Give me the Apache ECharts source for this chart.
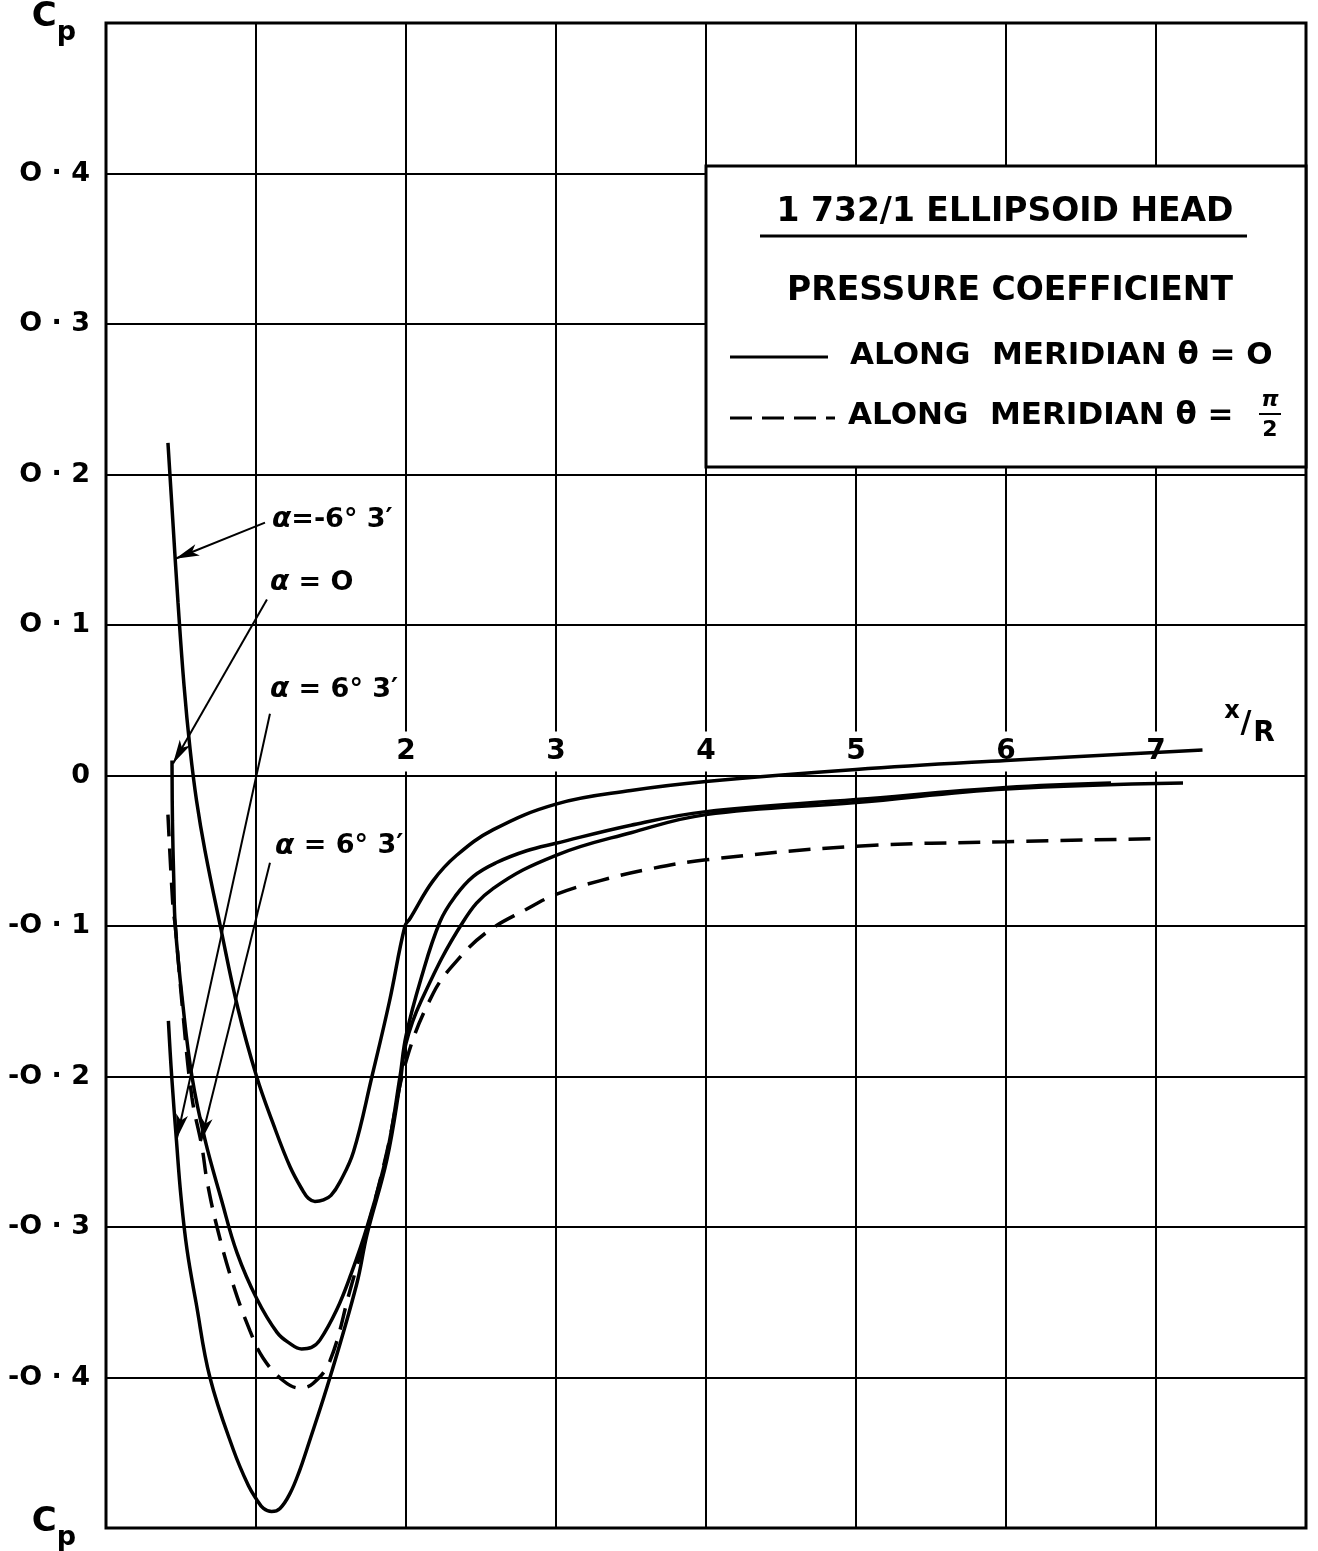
<!DOCTYPE html>
<html>
<head>
<meta charset="utf-8">
<script src="https://cdn.jsdelivr.net/npm/echarts/dist/echarts.min.js"></script>
<style>
  html, body { margin: 0; padding: 0; background: #fff; }
  #chart { width: 1318px; height: 1551px; }
</style>
</head>
<body>
<div id="chart"></div>
<script>
// alpha = -6deg 3', meridian theta = 0
var aNegX = [0.413, 0.445, 0.48, 0.52, 0.56, 0.604, 0.66, 0.76, 0.88, 1.004, 1.113, 1.227, 1.313, 1.35, 1.393, 1.45, 1.5, 1.56, 1.65, 1.773, 1.89, 1.993, 2.027, 2.18, 2.338, 2.582, 3.0, 3.5, 4.0, 5.0, 6.0, 7.31]
var aNegY = [0.221, 0.17, 0.115, 0.06, 0.018, -0.017, -0.05, -0.099, -0.155, -0.2, -0.231, -0.26, -0.276, -0.281, -0.283, -0.282, -0.279, -0.27, -0.25, -0.2, -0.15, -0.1, -0.095, -0.07, -0.053, -0.036, -0.019, -0.01, -0.004, 0.004, 0.01, 0.017]
// alpha = 0, theta = 0
var aZeroX = [0.44, 0.443, 0.452, 0.462, 0.51, 0.573, 0.66, 0.77, 0.873, 1.007, 1.14, 1.22, 1.304, 1.37, 1.427, 1.538, 1.627, 1.74, 1.873, 1.96, 2.0, 2.1, 2.227, 2.33, 2.449, 2.6, 2.804, 3.0, 3.5, 4.0, 5.0, 6.0, 6.7]
var aZeroY = [0.01, -0.03, -0.07, -0.1, -0.15, -0.2, -0.242, -0.282, -0.317, -0.348, -0.37, -0.377, -0.381, -0.38, -0.375, -0.355, -0.333, -0.3, -0.251, -0.2, -0.173, -0.135, -0.097, -0.08, -0.067, -0.058, -0.05, -0.045, -0.033, -0.024, -0.016, -0.008, -0.005]
// alpha = 6deg 3', theta = 0
var aPosX = [0.416, 0.438, 0.47, 0.5, 0.54, 0.6, 0.693, 0.849, 0.95, 1.004, 1.05, 1.104, 1.16, 1.227, 1.29, 1.338, 1.493, 1.671, 1.74, 1.873, 1.96, 2.0, 2.1, 2.382, 2.582, 3.0, 3.5, 4.0, 5.0, 6.0, 7.18]
var aPosY = [-0.163, -0.2, -0.243, -0.28, -0.315, -0.35, -0.4, -0.448, -0.472, -0.481, -0.487, -0.489, -0.487, -0.477, -0.462, -0.448, -0.4, -0.338, -0.305, -0.255, -0.205, -0.178, -0.15, -0.097, -0.075, -0.053, -0.038, -0.026, -0.018, -0.009, -0.005]
// alpha = 6deg 3', theta = pi/2 (dashed)
var halfPiX = [0.413, 0.447, 0.462, 0.51, 0.573, 0.64, 0.673, 0.74, 0.847, 0.96, 1.047, 1.18, 1.293, 1.38, 1.493, 1.627, 1.74, 1.873, 2.0, 2.18, 2.34, 2.54, 2.8, 3.0, 3.29, 3.63, 4.0, 5.0, 6.0, 6.99]
var halfPiY = [-0.026, -0.088, -0.1, -0.155, -0.214, -0.247, -0.269, -0.3, -0.338, -0.369, -0.387, -0.402, -0.407, -0.404, -0.389, -0.342, -0.302, -0.25, -0.19, -0.145, -0.123, -0.104, -0.089, -0.079, -0.07, -0.062, -0.056, -0.047, -0.044, -0.042]

var xTickValues = [2, 3, 4, 5, 6, 7]
var xTickLabels = ['2', '3', '4', '5', '6', '7']
var yTickLabels = ['{c|C}{p|p}', '-O · 4', '-O · 3', '-O · 2', '-O · 1', '0', 'O · 1', 'O · 2', 'O · 3', 'O · 4', '{c|C}{p|p}']

// curve labels and their arrows (data coordinates)
var noteText = ['{a|α}{t|=-6° 3′}', '{a|α}{t| = O}', '{a|α}{t| = 6° 3′}', '{a|α}{t| = 6° 3′}']
var noteAt = [[1.107, 0.17], [1.093, 0.128], [1.093, 0.057], [1.127, -0.047]]
var arrowFrom = [[1.06, 0.168], [1.073, 0.117], [1.093, 0.041], [1.093, -0.058]]
var arrowTo = [[0.462, 0.144], [0.447, 0.008], [0.473, -0.241], [0.633, -0.243]]

function pairs(xs, ys) {
    let out = []
    for (let i = 0; i < xs.length; i++) out.push([xs[i], ys[i]])
    return out
}

var font = 'DejaVu Sans'
var chart = echarts.init(document.getElementById('chart'))

function curve(name, xs, ys, dashed) {
    return {
        name: name,
        type: 'line',
        data: pairs(xs, ys),
        showSymbol: false,
        smooth: 0.4,
        lineStyle: {
            color: '#000',
            width: 3.5,
            type: dashed ? [22, 12] : 'solid'
        },
        z: 5
    }
}

var noteData = []
for (let i = 0; i < noteText.length; i++) {
    noteData.push({ value: noteAt[i], label: { formatter: noteText[i] } })
}
var arrowData = []
for (let i = 0; i < arrowFrom.length; i++) {
    arrowData.push([{ coord: arrowFrom[i] }, { coord: arrowTo[i] }])
}
var xTickData = []
for (let i = 0; i < xTickValues.length; i++) {
    xTickData.push({ value: [xTickValues[i], 0], label: { formatter: xTickLabels[i] } })
}

function legendText(text, x, y, size, align) {
    return {
        type: 'text', z: 100,
        style: {
            text: text, x: x, y: y,
            font: 'bold ' + size + 'px "DejaVu Sans"',
            fill: '#000', textAlign: align, textVerticalAlign: 'middle'
        }
    }
}

var option = {
    backgroundColor: '#fff',
    animation: false,
    grid: {
        left: 106,
        top: 20,
        width: 1200,
        height: 1508,
        show: true,
        borderColor: '#000',
        borderWidth: 3,
        backgroundColor: 'transparent'
    },
    xAxis: {
        type: 'value',
        min: 0,
        max: 8,
        interval: 1,
        axisLine: { show: false },
        axisTick: { show: false },
        axisLabel: { show: false },
        splitLine: { show: true, lineStyle: { color: '#000', width: 2 } }
    },
    yAxis: {
        type: 'value',
        min: -0.5,
        max: 0.5,
        interval: 0.1,
        axisLine: { show: false },
        axisTick: { show: false },
        splitLine: { show: true, lineStyle: { color: '#000', width: 2 } },
        axisLabel: {
            margin: 16,
            color: '#000',
            fontFamily: font,
            fontSize: 27,
            fontWeight: 'bold',
            formatter: function (v) { return yTickLabels[Math.round(v * 10) + 5] },
            rich: {
                c: { fontFamily: font, fontSize: 34, fontWeight: 'bold', color: '#000', verticalAlign: 'top', lineHeight: 46 },
                p: { fontFamily: font, fontSize: 27, fontWeight: 'bold', color: '#000', verticalAlign: 'bottom', lineHeight: 46, padding: [0, 14, 0, 0] }
            }
        }
    },
    series: [
        curve('α=-6°3′ θ=0', aNegX, aNegY, false),
        curve('α=0 θ=0', aZeroX, aZeroY, false),
        curve('α=6°3′ θ=0', aPosX, aPosY, false),
        curve('α=6°3′ θ=π/2', halfPiX, halfPiY, true),
        {
            name: 'notes',
            type: 'scatter',
            data: noteData,
            symbolSize: 0,
            silent: true,
            itemStyle: { opacity: 1 },
            label: {
                show: true,
                position: 'right',
                distance: 0,
                color: '#000',
                rich: {
                    a: { fontFamily: font, fontSize: 28, fontStyle: 'italic', fontWeight: 'bold', color: '#000' },
                    t: { fontFamily: font, fontSize: 27, fontWeight: 'bold', color: '#000' }
                }
            },
            markLine: {
                silent: true,
                symbol: ['none', 'arrow'],
                symbolSize: [9, 24],
                label: { show: false },
                lineStyle: { color: '#000', width: 2, type: 'solid', opacity: 1 },
                itemStyle: { color: '#000', opacity: 1 },
                data: arrowData
            },
            markArea: {
                silent: true,
                itemStyle: { color: '#fff', opacity: 1, borderColor: '#000', borderWidth: 3 },
                data: [[{ coord: [4, 0.405] }, { coord: [8, 0.205] }]]
            },
            z: 6
        },
        {
            name: 'xTicks',
            type: 'scatter',
            data: xTickData,
            symbolSize: 0,
            silent: true,
            itemStyle: { opacity: 1 },
            label: {
                show: true,
                position: 'top',
                distance: 4,
                color: '#000',
                fontFamily: font,
                fontSize: 28,
                fontWeight: 'bold',
                backgroundColor: '#fff',
                padding: [6, 3, 6, 3]
            },
            z: 4
        }
    ],
    graphic: [
        legendText('1 732/1 ELLIPSOID HEAD', 1005, 212, 33, 'center'),
        { type: 'line', z: 100, shape: { x1: 760, y1: 236, x2: 1247, y2: 236 }, style: { stroke: '#000', lineWidth: 3 } },
        legendText('PRESSURE COEFFICIENT', 1010, 291, 33, 'center'),
        { type: 'line', z: 100, shape: { x1: 730, y1: 357, x2: 828, y2: 357 }, style: { stroke: '#000', lineWidth: 3 } },
        legendText('ALONG  MERIDIAN θ = O', 850, 356, 31, 'left'),
        { type: 'line', z: 100, shape: { x1: 730, y1: 418, x2: 835, y2: 418 }, style: { stroke: '#000', lineWidth: 3, lineDash: [22, 10] } },
        legendText('ALONG  MERIDIAN θ =', 848, 416, 31, 'left'),
        { type: 'text', z: 100, style: { text: 'π', x: 1270, y: 400, font: 'italic bold 22px "DejaVu Sans"', fill: '#000', textAlign: 'center', textVerticalAlign: 'middle' } },
        { type: 'line', z: 100, shape: { x1: 1259, y1: 414, x2: 1281, y2: 414 }, style: { stroke: '#000', lineWidth: 2 } },
        { type: 'text', z: 100, style: { text: '2', x: 1270, y: 430, font: 'bold 22px "DejaVu Sans"', fill: '#000', textAlign: 'center', textVerticalAlign: 'middle' } },
        { type: 'text', z: 100, style: { text: 'x', x: 1232, y: 712, font: 'bold 24px "DejaVu Sans"', fill: '#000', textAlign: 'center', textVerticalAlign: 'middle' } },
        { type: 'text', z: 100, style: { text: '/', x: 1246, y: 724, font: 'bold 30px "DejaVu Sans"', fill: '#000', textAlign: 'center', textVerticalAlign: 'middle' } },
        { type: 'text', z: 100, style: { text: 'R', x: 1264, y: 734, font: 'bold 28px "DejaVu Sans"', fill: '#000', textAlign: 'center', textVerticalAlign: 'middle' } }
    ]
}
chart.setOption(option)
</script>
</body>
</html>
